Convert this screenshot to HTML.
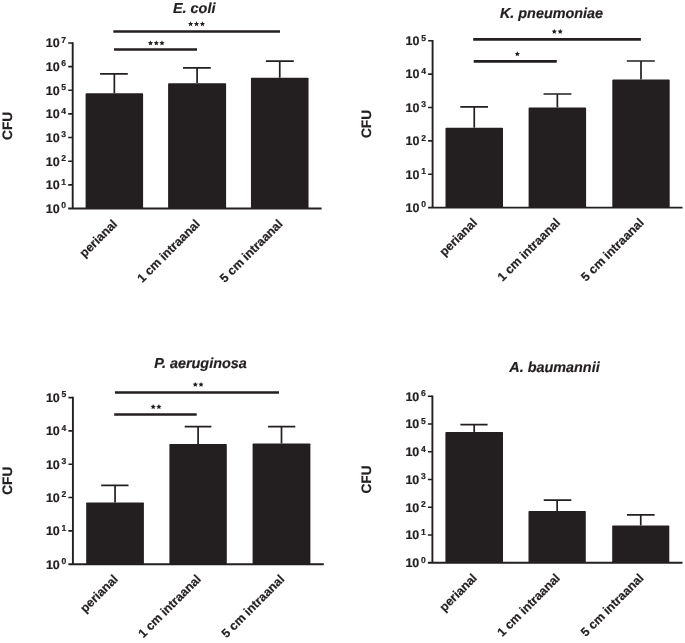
<!DOCTYPE html>
<html><head><meta charset="utf-8"><style>
html,body{margin:0;padding:0;background:#fff;}
svg{display:block;will-change:transform;}
text{text-rendering:geometricPrecision;font-family:"Liberation Sans",sans-serif;fill:#231f20;stroke:#231f20;stroke-width:0.2px;}
.t{font-size:12.5px;font-weight:bold;}
.s{font-size:8.6px;font-weight:bold;}
.l{font-size:12.3px;font-weight:bold;}
.h{font-size:14.4px;font-weight:bold;font-style:italic;}
.c{font-size:13.7px;font-weight:bold;}
</style></head><body>
<svg width="685" height="643" viewBox="0 0 685 643">
<rect width="685" height="643" fill="#fff"/>
<path d="M72.7 42.15V208.5M68.2 208.5H321.6" stroke="#231f20" stroke-width="1.9" fill="none"/>
<path d="M68.2 42.95H72.7M68.2 66.6H72.7M68.2 90.25H72.7M68.2 113.9H72.7M68.2 137.55H72.7M68.2 161.2H72.7M68.2 184.85H72.7" stroke="#231f20" stroke-width="1.6" fill="none"/>
<text class="t" x="59.6" y="212.8" text-anchor="end">10</text><text class="s" x="66.1" y="208.3" text-anchor="end">0</text>
<text class="t" x="59.6" y="189.15" text-anchor="end">10</text><text class="s" x="66.1" y="184.65" text-anchor="end">1</text>
<text class="t" x="59.6" y="165.5" text-anchor="end">10</text><text class="s" x="66.1" y="161" text-anchor="end">2</text>
<text class="t" x="59.6" y="141.85" text-anchor="end">10</text><text class="s" x="66.1" y="137.35" text-anchor="end">3</text>
<text class="t" x="59.6" y="118.2" text-anchor="end">10</text><text class="s" x="66.1" y="113.7" text-anchor="end">4</text>
<text class="t" x="59.6" y="94.55" text-anchor="end">10</text><text class="s" x="66.1" y="90.05" text-anchor="end">5</text>
<text class="t" x="59.6" y="70.9" text-anchor="end">10</text><text class="s" x="66.1" y="66.4" text-anchor="end">6</text>
<text class="t" x="59.6" y="47.25" text-anchor="end">10</text><text class="s" x="66.1" y="42.75" text-anchor="end">7</text>
<path d="M114.35 93.3V73.9M100.1 73.9H127.8" stroke="#231f20" stroke-width="1.7" fill="none"/>
<rect x="85.6" y="93.3" width="57.5" height="115.2" rx="0.8" fill="#231f20"/>
<path d="M197.1 83.3V67.8M183 67.8H210.8" stroke="#231f20" stroke-width="1.7" fill="none"/>
<rect x="168.1" y="83.3" width="58" height="125.2" rx="0.8" fill="#231f20"/>
<path d="M279.75 77.8V61.1M265.9 61.1H293.8" stroke="#231f20" stroke-width="1.7" fill="none"/>
<rect x="250.95" y="77.8" width="57.6" height="130.7" rx="0.8" fill="#231f20"/>
<text class="l" transform="translate(117.95 224.7) rotate(-45)" text-anchor="end">perianal</text>
<text class="l" transform="translate(200.7 224.7) rotate(-45)" text-anchor="end">1 cm intraanal</text>
<text class="l" transform="translate(283.35 224.7) rotate(-45)" text-anchor="end">5 cm intraanal</text>
<path d="M113.3 31.5H280" stroke="#231f20" stroke-width="2.6" fill="none"/>
<path d="M114 49.5H197" stroke="#231f20" stroke-width="2.6" fill="none"/>
<path d="M190.6,21.2 191.36,22.9 193.22,23.1 191.84,24.35 192.22,26.17 190.6,25.25 188.98,26.17 189.36,24.35 187.98,23.1 189.84,22.9ZM196.5,21.2 197.26,22.9 199.12,23.1 197.74,24.35 198.12,26.17 196.5,25.25 194.88,26.17 195.26,24.35 193.88,23.1 195.74,22.9ZM202.4,21.2 203.16,22.9 205.02,23.1 203.64,24.35 204.02,26.17 202.4,25.25 200.78,26.17 201.16,24.35 199.78,23.1 201.64,22.9Z" fill="#231f20"/>
<path d="M150.5,40.4 151.26,42.1 153.12,42.3 151.74,43.55 152.12,45.37 150.5,44.45 148.88,45.37 149.26,43.55 147.88,42.3 149.74,42.1ZM156.3,40.4 157.06,42.1 158.92,42.3 157.54,43.55 157.92,45.37 156.3,44.45 154.68,45.37 155.06,43.55 153.68,42.3 155.54,42.1ZM162,40.4 162.76,42.1 164.62,42.3 163.24,43.55 163.62,45.37 162,44.45 160.38,45.37 160.76,43.55 159.38,42.3 161.24,42.1Z" fill="#231f20"/>
<text class="h" x="194.2" y="12.6" text-anchor="middle">E. coli</text>
<text class="c" transform="translate(12.1 125.85) rotate(-90)" text-anchor="middle">CFU</text>
<path d="M432.6 40V207.65M428.1 207.65H682.5" stroke="#231f20" stroke-width="1.9" fill="none"/>
<path d="M428.1 40.8H432.6M428.1 74.17H432.6M428.1 107.54H432.6M428.1 140.91H432.6M428.1 174.28H432.6" stroke="#231f20" stroke-width="1.6" fill="none"/>
<text class="t" x="419.5" y="211.95" text-anchor="end">10</text><text class="s" x="426" y="207.45" text-anchor="end">0</text>
<text class="t" x="419.5" y="178.58" text-anchor="end">10</text><text class="s" x="426" y="174.08" text-anchor="end">1</text>
<text class="t" x="419.5" y="145.21" text-anchor="end">10</text><text class="s" x="426" y="140.71" text-anchor="end">2</text>
<text class="t" x="419.5" y="111.84" text-anchor="end">10</text><text class="s" x="426" y="107.34" text-anchor="end">3</text>
<text class="t" x="419.5" y="78.47" text-anchor="end">10</text><text class="s" x="426" y="73.97" text-anchor="end">4</text>
<text class="t" x="419.5" y="45.1" text-anchor="end">10</text><text class="s" x="426" y="40.6" text-anchor="end">5</text>
<path d="M474.25 127.7V106.8M460.3 106.8H488" stroke="#231f20" stroke-width="1.7" fill="none"/>
<rect x="445.5" y="127.7" width="57.5" height="79.95" rx="0.8" fill="#231f20"/>
<path d="M557.35 107.6V94M543.5 94H571.4" stroke="#231f20" stroke-width="1.7" fill="none"/>
<rect x="528.6" y="107.6" width="57.5" height="100.05" rx="0.8" fill="#231f20"/>
<path d="M641 79.6V61M626.8 61H654.8" stroke="#231f20" stroke-width="1.7" fill="none"/>
<rect x="612.3" y="79.6" width="57.4" height="128.05" rx="0.8" fill="#231f20"/>
<text class="l" transform="translate(477.85 223.4) rotate(-45)" text-anchor="end">perianal</text>
<text class="l" transform="translate(560.95 223.4) rotate(-45)" text-anchor="end">1 cm intraanal</text>
<text class="l" transform="translate(644.6 223.4) rotate(-45)" text-anchor="end">5 cm intraanal</text>
<path d="M473.2 39.35H640.9" stroke="#231f20" stroke-width="2.6" fill="none"/>
<path d="M473.7 61.4H556.8" stroke="#231f20" stroke-width="2.6" fill="none"/>
<path d="M554.3,28.9 555.06,30.6 556.92,30.8 555.54,32.05 555.92,33.87 554.3,32.95 552.68,33.87 553.06,32.05 551.68,30.8 553.54,30.6ZM560.2,28.9 560.96,30.6 562.82,30.8 561.44,32.05 561.82,33.87 560.2,32.95 558.58,33.87 558.96,32.05 557.58,30.8 559.44,30.6Z" fill="#231f20"/>
<path d="M517.35,51.3 518.11,53 519.97,53.2 518.59,54.45 518.97,56.27 517.35,55.35 515.73,56.27 516.11,54.45 514.73,53.2 516.59,53Z" fill="#231f20"/>
<text class="h" x="551.5" y="17.8" text-anchor="middle">K. pneumoniae</text>
<text class="c" transform="translate(371.4 124) rotate(-90)" text-anchor="middle">CFU</text>
<path d="M72.9 396.8V564.2M68.4 564.2H323.8" stroke="#231f20" stroke-width="1.9" fill="none"/>
<path d="M68.4 397.6H72.9M68.4 430.92H72.9M68.4 464.24H72.9M68.4 497.56H72.9M68.4 530.88H72.9" stroke="#231f20" stroke-width="1.6" fill="none"/>
<text class="t" x="59.8" y="568.5" text-anchor="end">10</text><text class="s" x="66.3" y="564" text-anchor="end">0</text>
<text class="t" x="59.8" y="535.18" text-anchor="end">10</text><text class="s" x="66.3" y="530.68" text-anchor="end">1</text>
<text class="t" x="59.8" y="501.86" text-anchor="end">10</text><text class="s" x="66.3" y="497.36" text-anchor="end">2</text>
<text class="t" x="59.8" y="468.54" text-anchor="end">10</text><text class="s" x="66.3" y="464.04" text-anchor="end">3</text>
<text class="t" x="59.8" y="435.22" text-anchor="end">10</text><text class="s" x="66.3" y="430.72" text-anchor="end">4</text>
<text class="t" x="59.8" y="401.9" text-anchor="end">10</text><text class="s" x="66.3" y="397.4" text-anchor="end">5</text>
<path d="M115.05 502.5V485.3M101.2 485.3H128.5" stroke="#231f20" stroke-width="1.7" fill="none"/>
<rect x="86.2" y="502.5" width="57.7" height="61.7" rx="0.8" fill="#231f20"/>
<path d="M198.1 443.9V426.7M184.7 426.7H211.4" stroke="#231f20" stroke-width="1.7" fill="none"/>
<rect x="169.4" y="443.9" width="57.4" height="120.3" rx="0.8" fill="#231f20"/>
<path d="M281.5 443.5V426.7M268 426.7H295.3" stroke="#231f20" stroke-width="1.7" fill="none"/>
<rect x="252.6" y="443.5" width="57.8" height="120.7" rx="0.8" fill="#231f20"/>
<text class="l" transform="translate(118.65 579.9) rotate(-45)" text-anchor="end">perianal</text>
<text class="l" transform="translate(201.7 579.9) rotate(-45)" text-anchor="end">1 cm intraanal</text>
<text class="l" transform="translate(285.1 579.9) rotate(-45)" text-anchor="end">5 cm intraanal</text>
<path d="M114.9 392.45H279" stroke="#231f20" stroke-width="2.6" fill="none"/>
<path d="M114.2 414.55H196.7" stroke="#231f20" stroke-width="2.6" fill="none"/>
<path d="M195.3,381.9 196.06,383.6 197.92,383.8 196.54,385.05 196.92,386.87 195.3,385.95 193.68,386.87 194.06,385.05 192.68,383.8 194.54,383.6ZM201,381.9 201.76,383.6 203.62,383.8 202.24,385.05 202.62,386.87 201,385.95 199.38,386.87 199.76,385.05 198.38,383.8 200.24,383.6Z" fill="#231f20"/>
<path d="M153.2,404.1 153.96,405.8 155.82,406 154.44,407.25 154.82,409.07 153.2,408.15 151.58,409.07 151.96,407.25 150.58,406 152.44,405.8ZM158.9,404.1 159.66,405.8 161.52,406 160.14,407.25 160.52,409.07 158.9,408.15 157.28,409.07 157.66,407.25 156.28,406 158.14,405.8Z" fill="#231f20"/>
<text class="h" x="200.5" y="367.8" text-anchor="middle">P. aeruginosa</text>
<text class="c" transform="translate(12.2 480.7) rotate(-90)" text-anchor="middle">CFU</text>
<path d="M432.4 395.5V562.8M427.9 562.8H682.5" stroke="#231f20" stroke-width="1.9" fill="none"/>
<path d="M427.9 396.3H432.4M427.9 424.05H432.4M427.9 451.8H432.4M427.9 479.55H432.4M427.9 507.3H432.4M427.9 535.05H432.4" stroke="#231f20" stroke-width="1.6" fill="none"/>
<text class="t" x="419.3" y="567.1" text-anchor="end">10</text><text class="s" x="425.8" y="562.6" text-anchor="end">0</text>
<text class="t" x="419.3" y="539.35" text-anchor="end">10</text><text class="s" x="425.8" y="534.85" text-anchor="end">1</text>
<text class="t" x="419.3" y="511.6" text-anchor="end">10</text><text class="s" x="425.8" y="507.1" text-anchor="end">2</text>
<text class="t" x="419.3" y="483.85" text-anchor="end">10</text><text class="s" x="425.8" y="479.35" text-anchor="end">3</text>
<text class="t" x="419.3" y="456.1" text-anchor="end">10</text><text class="s" x="425.8" y="451.6" text-anchor="end">4</text>
<text class="t" x="419.3" y="428.35" text-anchor="end">10</text><text class="s" x="425.8" y="423.85" text-anchor="end">5</text>
<text class="t" x="419.3" y="400.6" text-anchor="end">10</text><text class="s" x="425.8" y="396.1" text-anchor="end">6</text>
<path d="M474.2 432V424.7M460.4 424.7H487.6" stroke="#231f20" stroke-width="1.7" fill="none"/>
<rect x="445.4" y="432" width="57.6" height="130.8" rx="0.8" fill="#231f20"/>
<path d="M557.15 511V500.1M543.7 500.1H571.3" stroke="#231f20" stroke-width="1.7" fill="none"/>
<rect x="528.5" y="511" width="57.3" height="51.8" rx="0.8" fill="#231f20"/>
<path d="M640.75 525.5V514.9M627 514.9H654.6" stroke="#231f20" stroke-width="1.7" fill="none"/>
<rect x="612.2" y="525.5" width="57.1" height="37.3" rx="0.8" fill="#231f20"/>
<text class="l" transform="translate(477.8 578.8) rotate(-45)" text-anchor="end">perianal</text>
<text class="l" transform="translate(560.75 578.8) rotate(-45)" text-anchor="end">1 cm intraanal</text>
<text class="l" transform="translate(644.35 578.8) rotate(-45)" text-anchor="end">5 cm intraanal</text>
<text class="h" x="554.5" y="372" text-anchor="middle">A. baumannii</text>
<text class="c" transform="translate(371.4 479.5) rotate(-90)" text-anchor="middle">CFU</text>
</svg></body></html>
